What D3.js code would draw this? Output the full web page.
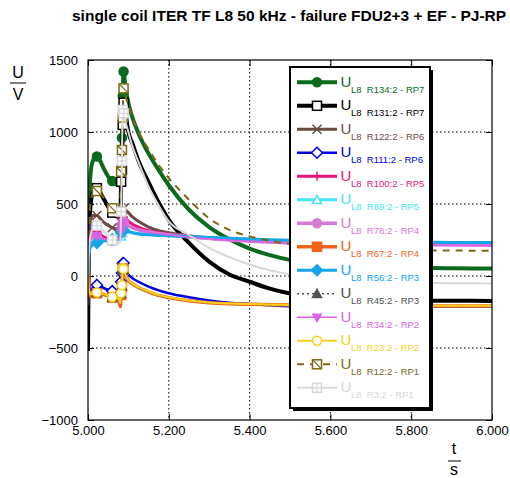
<!DOCTYPE html>
<html>
<head>
<meta charset="utf-8">
<script src="https://cdn.jsdelivr.net/npm/d3@7"></script>
<style>
  html, body { margin: 0; padding: 0; background: #fff; }
  svg { display: block; font-family: "Liberation Sans", Arial, sans-serif; }
</style>
</head>
<body>
<svg id="chart" width="510" height="478"></svg>
<script>
// Time base shared by every trace (s)
const time = [5.000, 5.002, 5.006, 5.012, 5.022, 5.030, 5.040, 5.050, 5.060, 5.068,
              5.075, 5.080, 5.082, 5.084, 5.086, 5.088, 5.092, 5.100, 5.110, 5.125,
              5.150, 5.175, 5.200, 5.250, 5.300, 5.350, 5.400, 5.450, 5.500, 5.600,
              5.700, 5.800, 5.900, 6.000];

// Voltages (V) at each time point
const uR134 = [0, 420, 700, 800, 830, 800, 740, 690, 660, 640, 630, 640, 700, 960, 1250, 1420, 1330, 1200, 1100, 990,
               850, 735, 630, 460, 340, 255, 190, 145, 112, 80, 65, 57, 53, 52];
const uR131 = [-520, 200, 480, 580, 610, 580, 530, 480, 440, 420, 410, 430, 655, 736, 1049, 1204, 1150, 1000, 920, 800,
               650, 510, 390, 230, 100, 10, -40, -88, -122, -152, -165, -170, -172, -173];
const uR122 = [-200, 250, 380, 420, 420, 400, 370, 350, 335, 330, 330, 345, 380, 420, 460, 470, 460, 440, 410, 380,
               340, 315, 300, 280, 265, 255, 247, 240, 235, 228, 224, 221, 219, 217];
const uR111 = [420, -60, -100, -80, -62, -70, -85, -95, -105, -109, -100, -80, -40, 20, 88, 90, 50, 10, -15, -40,
               -74, -100, -120, -148, -170, -185, -194, -203, -210, -215, -215, -213, -212, -211];
const uR100 = [-150, 200, 300, 320, 310, 290, 270, 260, 255, 255, 260, 280, 320, 370, 400, 410, 400, 380, 360, 340,
               315, 300, 290, 275, 262, 253, 245, 238, 233, 227, 223, 220, 218, 217];
const uR89  = [100, 180, 230, 250, 255, 250, 245, 242, 242, 245, 250, 258, 275, 300, 320, 325, 318, 310, 302, 295,
               288, 283, 280, 273, 266, 260, 254, 249, 244, 238, 234, 231, 229, 228];
const uR78  = [0, 200, 260, 280, 275, 260, 250, 245, 245, 250, 258, 270, 300, 340, 370, 375, 365, 350, 335, 320,
               305, 295, 287, 272, 260, 250, 243, 236, 230, 224, 220, 218, 216, 215];
const uR67  = [180, -100, -140, -130, -120, -120, -130, -140, -150, -155, -158, -213, -132, -74, 53, 45, 10, -30, -55, -80,
               -110, -135, -150, -172, -185, -192, -196, -199, -201, -204, -206, -207, -208, -208];
const uR56  = [0, 150, 200, 220, 230, 240, 245, 250, 255, 262, 270, 280, 300, 315, 322, 320, 315, 308, 300, 292,
               286, 282, 280, 274, 268, 262, 257, 252, 248, 242, 238, 235, 233, 232];
const uR45  = [0, -90, -130, -125, -118, -120, -128, -138, -148, -153, -156, -200, -125, -70, 45, 40, 5, -32, -58, -83,
               -112, -137, -152, -173, -186, -193, -197, -200, -202, -205, -206, -207, -208, -208];
const uR34  = [-50, 220, 270, 285, 280, 265, 255, 250, 248, 252, 260, 275, 310, 345, 365, 368, 360, 345, 332, 318,
               303, 293, 285, 270, 258, 249, 242, 236, 230, 224, 220, 217, 215, 214];
const uR23  = [0, -90, -125, -122, -115, -118, -126, -136, -146, -152, -155, -190, -120, -65, 55, 48, 12, -28, -53, -78,
               -108, -133, -148, -170, -184, -191, -195, -198, -201, -204, -205, -206, -207, -207];
const uR12  = [0, 300, 500, 570, 590, 575, 540, 500, 470, 460, 455, 516, 724, 875, 1100, 1303, 1260, 1180, 1100, 1000,
               880, 770, 680, 530, 400, 320, 275, 245, 222, 205, 190, 180, 177, 175];
const uR3   = [0, 150, 280, 330, 350, 340, 310, 280, 250, 235, 228, 240, 447, 800, 1153, 1130, 1080, 1000, 900, 790,
               620, 490, 380, 285, 195, 130, 80, 40, 10, -25, -40, -47, -50, -52];

// Legend names
const probes = ["R134:2 - RP7", "R131:2 - RP7", "R122:2 - RP6", "R111:2 - RP6", "R100:2 - RP5",
                "R89:2 - RP5", "R78:2 - RP4", "R67:2 - RP4", "R56:2 - RP3", "R45:2 - RP3",
                "R34:2 - RP2", "R23:2 - RP2", "R12:2 - RP1", "R3:2 - RP1"];

// Axis ticks
const xTicks = [5.0, 5.2, 5.4, 5.6, 5.8, 6.0];
const yTicks = [-1000, -500, 0, 500, 1000, 1500];

// Indices of samples that carry a symbol
const markedIdx = [4, 8, 12, 13, 14, 15];

const values = [uR134, uR131, uR122, uR111, uR100, uR89, uR78, uR67, uR56, uR45, uR34, uR23, uR12, uR3];

// Styling per trace
const styles = [
  { color: "#0b6a1e", width: 4,   dash: null,  sym: "circle",   fill: true },
  { color: "#000000", width: 4,   dash: null,  sym: "square",   fill: false },
  { color: "#6b4c44", width: 3,   dash: null,  sym: "cross",    fill: false },
  { color: "#0000e6", width: 2.5, dash: null,  sym: "diamond",  fill: false },
  { color: "#e8157c", width: 3,   dash: null,  sym: "plus",     fill: false },
  { color: "#48e4f4", width: 3,   dash: null,  sym: "triangle", fill: false },
  { color: "#d67ad6", width: 3.5, dash: null,  sym: "circle",   fill: true },
  { color: "#f0641a", width: 3.5, dash: null,  sym: "square",   fill: true },
  { color: "#14a6e8", width: 3,   dash: null,  sym: "diamond",  fill: true },
  { color: "#505050", width: 1.5, dash: "2,3", sym: "triangle", fill: true },
  { color: "#d763e4", width: 1.5, dash: null,  sym: "tridown",  fill: true },
  { color: "#f6d21e", width: 2,   dash: null,  sym: "circle",   fill: false },
  { color: "#7c6914", width: 2,   dash: "7,6", sym: "boxslash", fill: false },
  { color: "#d8d8d8", width: 2,   dash: null,  sym: "boxplus",  fill: false }
];

const svg = d3.select("#chart");
const pL = 88, pR = 492, pT = 60, pB = 420;

const x = d3.scaleLinear().domain([5, 6]).range([pL, pR]);
const y = d3.scaleLinear().domain([-1000, 1500]).range([pB, pT]);

// Title
svg.append("text")
  .attr("x", 72).attr("y", 21)
  .attr("font-size", 15.5).attr("font-weight", "bold")
  .attr("fill", "#000")
  .text("single coil ITER TF L8 50 kHz - failure FDU2+3 + EF - PJ-RP");

// Grid
const grid = svg.append("g").attr("stroke", "#000").attr("stroke-width", 1)
  .attr("stroke-dasharray", "1.5,2.5");
grid.selectAll(".gx").data(xTicks.slice(1, -1)).join("line")
  .attr("x1", d => x(d)).attr("x2", d => x(d)).attr("y1", pT).attr("y2", pB);
grid.selectAll(".gy").data(yTicks.slice(1, -1)).join("line")
  .attr("y1", d => y(d)).attr("y2", d => y(d)).attr("x1", pL).attr("x2", pR);

// Axes
const xAxis = d3.axisBottom(x).tickValues(xTicks).tickFormat(d3.format(".3f"))
  .tickSizeInner(-6).tickSizeOuter(0).tickPadding(6);
const gx = svg.append("g").attr("transform", `translate(0,${pB})`).call(xAxis);
const xAxisTop = d3.axisTop(x).tickValues(xTicks).tickFormat("").tickSizeInner(-6).tickSizeOuter(0);
const gxt = svg.append("g").attr("transform", `translate(0,${pT})`).call(xAxisTop);
const yAxis = d3.axisLeft(y).tickValues(yTicks).tickFormat(d3.format("d"))
  .tickSizeInner(-6).tickSizeOuter(0).tickPadding(10);
const gy = svg.append("g").attr("transform", `translate(${pL},0)`).call(yAxis);
const yAxisRight = d3.axisRight(y).tickValues(yTicks).tickFormat("").tickSizeInner(-6).tickSizeOuter(0);
const gyr = svg.append("g").attr("transform", `translate(${pR},0)`).call(yAxisRight);
[gx, gxt, gy, gyr].forEach(g => {
  g.select(".domain").remove();
  g.selectAll("text").attr("font-size", 13).attr("fill", "#000")
    .attr("font-family", "'Liberation Sans', Arial, sans-serif");
  g.selectAll("line").attr("stroke", "#000");
});

// Clip region for traces
svg.append("clipPath").attr("id", "plotclip")
  .append("rect").attr("x", pL).attr("y", pT).attr("width", pR - pL).attr("height", pB - pT);

const line = d3.line().x((d, i) => x(time[i])).y(d => y(d)).curve(d3.curveMonotoneX);

// Symbol drawing
function drawSymbol(g, cx, cy, st, size) {
  const s = size / 2;
  const c = st.color;
  const fill = st.fill ? c : "#fff";
  switch (st.sym) {
    case "circle":
      g.append("circle").attr("cx", cx).attr("cy", cy).attr("r", s)
        .attr("fill", fill).attr("stroke", c).attr("stroke-width", 1.5);
      break;
    case "square":
      g.append("rect").attr("x", cx - s).attr("y", cy - s).attr("width", size).attr("height", size)
        .attr("fill", fill).attr("stroke", c).attr("stroke-width", 1.5);
      break;
    case "diamond":
      g.append("path").attr("d", `M${cx},${cy - s - 1}L${cx + s + 1},${cy}L${cx},${cy + s + 1}L${cx - s - 1},${cy}Z`)
        .attr("fill", fill).attr("stroke", c).attr("stroke-width", 1.5);
      break;
    case "triangle":
      g.append("path").attr("d", `M${cx},${cy - s}L${cx + s},${cy + s * 0.8}L${cx - s},${cy + s * 0.8}Z`)
        .attr("fill", fill).attr("stroke", c).attr("stroke-width", 1.5);
      break;
    case "tridown":
      g.append("path").attr("d", `M${cx - s},${cy - s * 0.7}L${cx + s},${cy - s * 0.7}L${cx},${cy + s}Z`)
        .attr("fill", fill).attr("stroke", c).attr("stroke-width", 1.2);
      break;
    case "cross":
      g.append("path").attr("d", `M${cx - s},${cy - s}L${cx + s},${cy + s}M${cx - s},${cy + s}L${cx + s},${cy - s}`)
        .attr("stroke", c).attr("stroke-width", 1.5).attr("fill", "none");
      break;
    case "plus":
      g.append("path").attr("d", `M${cx},${cy - s}L${cx},${cy + s}M${cx - s},${cy}L${cx + s},${cy}`)
        .attr("stroke", c).attr("stroke-width", 1.5).attr("fill", "none");
      break;
    case "boxslash":
      g.append("rect").attr("x", cx - s).attr("y", cy - s).attr("width", size).attr("height", size)
        .attr("fill", "#fff").attr("stroke", c).attr("stroke-width", 1.5);
      g.append("path").attr("d", `M${cx - s},${cy - s}L${cx + s},${cy + s}`)
        .attr("stroke", c).attr("stroke-width", 1.2);
      break;
    case "boxplus":
      g.append("rect").attr("x", cx - s).attr("y", cy - s).attr("width", size).attr("height", size)
        .attr("fill", "#fff").attr("stroke", c).attr("stroke-width", 1.5);
      g.append("path").attr("d", `M${cx},${cy - s}L${cx},${cy + s}M${cx - s},${cy}L${cx + s},${cy}`)
        .attr("stroke", c).attr("stroke-width", 1.2);
      break;
  }
}

// Traces
const plot = svg.append("g").attr("clip-path", "url(#plotclip)");
values.forEach((vals, k) => {
  const st = styles[k];
  const g = plot.append("g");
  g.append("path").datum(vals)
    .attr("d", line)
    .attr("fill", "none")
    .attr("stroke", st.color)
    .attr("stroke-width", st.width)
    .attr("stroke-dasharray", st.dash)
    .attr("stroke-linejoin", "round");
  markedIdx.forEach(i => drawSymbol(g, x(time[i]), y(vals[i]), st, 9));
});

// Frame
svg.append("rect").attr("x", pL).attr("y", pT).attr("width", pR - pL).attr("height", pB - pT)
  .attr("fill", "none").attr("stroke", "#000").attr("stroke-width", 1.2);

// Legend
const lg = svg.append("g");
const lx = 290, ly = 67, lw = 140, lh = 341;
lg.append("rect").attr("x", lx + 3).attr("y", ly + 3).attr("width", lw).attr("height", lh).attr("fill", "#000");
lg.append("rect").attr("x", lx).attr("y", ly).attr("width", lw).attr("height", lh)
  .attr("fill", "#fff").attr("stroke", "#000").attr("stroke-width", 2);
probes.forEach((name, k) => {
  const st = styles[k];
  const cy = 82.3 + k * 23.5;
  const g = lg.append("g");
  g.append("line").attr("x1", 297).attr("x2", 337).attr("y1", cy).attr("y2", cy)
    .attr("stroke", st.color).attr("stroke-width", Math.min(st.width, 4))
    .attr("stroke-dasharray", st.dash);
  drawSymbol(g, 317, cy, st, 9);
  g.append("text").attr("x", 340.5).attr("y", cy + 4.6)
    .attr("font-size", 15).attr("fill", st.color).text("U");
  g.append("text").attr("x", 351).attr("y", cy + 10.4)
    .attr("font-size", 9.5).attr("fill", st.color)
    .attr("xml:space", "preserve").style("white-space", "pre")
    .text("L8  " + name);
});

// Axis quantity / unit labels
const yl = svg.append("g").attr("fill", "#000");
yl.append("text").attr("x", 18).attr("y", 78).attr("text-anchor", "middle").attr("font-size", 16).text("U");
yl.append("line").attr("x1", 10).attr("x2", 26).attr("y1", 83).attr("y2", 83).attr("stroke", "#000").attr("stroke-width", 1);
yl.append("text").attr("x", 18).attr("y", 100).attr("text-anchor", "middle").attr("font-size", 16).text("V");

const xl = svg.append("g").attr("fill", "#000");
xl.append("text").attr("x", 454).attr("y", 454).attr("text-anchor", "middle").attr("font-size", 16).text("t");
xl.append("line").attr("x1", 448).attr("x2", 461).attr("y1", 461).attr("y2", 461).attr("stroke", "#000").attr("stroke-width", 1);
xl.append("text").attr("x", 454).attr("y", 475).attr("text-anchor", "middle").attr("font-size", 16).text("s");
</script>
</body>
</html>
